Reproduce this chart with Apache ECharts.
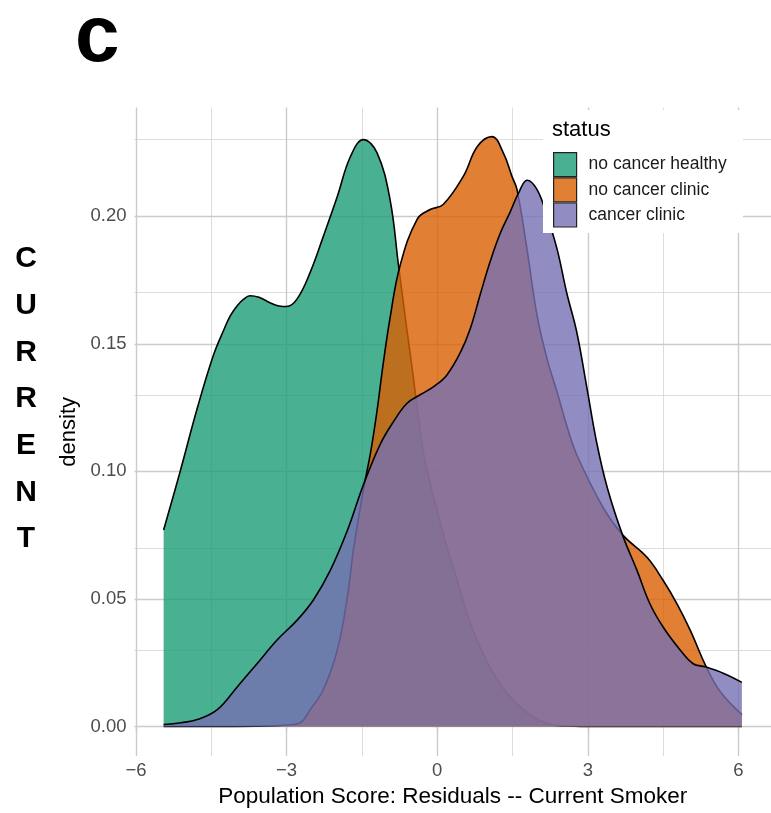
<!DOCTYPE html>
<html>
<head>
<meta charset="utf-8">
<script src="https://cdn.jsdelivr.net/npm/echarts@6.0.0/dist/echarts.min.js"></script>
<style>
html,body{margin:0;padding:0;background:#fff;}
#chart{width:771px;height:813px;}
</style>
</head>
<body>
<div id="chart"></div>
<script>
// ---- data ----
const seriesNames = ['no cancer healthy', 'no cancer clinic', 'cancer clinic'];
const xTicks = [-6, -3, 0, 3, 6];
const xMinorTicks = [-4.5, -1.5, 1.5, 4.5];
const yTicks = [0, 0.05, 0.10, 0.15, 0.20];
const yMinorTicks = [0.025, 0.075, 0.125, 0.175, 0.225];

const healthyX = [-5.45,-5.12,-4.78,-4.46,-4.25,-4.12,-3.98,-3.86,-3.73,-3.55,-3.33,-3.15,-3.00,-2.79,-2.53,-2.27,-1.99,-1.73,-1.47,-1.20,-0.94,-0.77,-0.60,-0.48,-0.38,-0.28,-0.14,0.02,0.20,0.40,0.60,0.86,1.20,1.65,2.19,2.60,3.20,4.00,5.00,6.07];
const healthyY = [0.077,0.100,0.1247,0.1454,0.1555,0.1610,0.1650,0.1674,0.1688,0.1682,0.1661,0.1648,0.1646,0.1676,0.178,0.192,0.2077,0.2233,0.2300,0.2249,0.2066,0.1806,0.155,0.1376,0.122,0.108,0.0955,0.083,0.070,0.0573,0.044,0.031,0.0183,0.0078,0.0012,0.0002,0,0,0,0];

const clinicX = [-5.45,-4.50,-3.60,-3.00,-2.73,-2.53,-2.27,-1.99,-1.79,-1.67,-1.53,-1.43,-1.33,-1.20,-1.08,-0.94,-0.74,-0.40,-0.14,0.12,0.52,0.80,1.09,1.32,1.49,1.59,1.79,1.99,2.19,2.39,2.58,2.78,3.31,3.69,4.18,4.50,4.78,5.04,5.36,5.64,6.07];
const clinicY = [0,0,0.0001,0.0006,0.0015,0.0066,0.0144,0.030,0.0507,0.069,0.086,0.097,0.107,0.1235,0.1415,0.160,0.1806,0.1988,0.2026,0.2046,0.2156,0.2273,0.2312,0.2247,0.2156,0.2104,0.187,0.161,0.144,0.131,0.118,0.1065,0.0857,0.0752,0.0663,0.0573,0.048,0.0378,0.0234,0.0136,0.0047];

const cancerX = [-5.45,-5.10,-4.78,-4.38,-3.98,-3.59,-3.19,-2.79,-2.47,-2.13,-1.79,-1.47,-1.14,-0.87,-0.60,-0.34,-0.07,0.19,0.46,0.66,0.86,1.06,1.25,1.45,1.62,1.79,1.99,2.19,2.39,2.58,2.78,2.98,3.18,3.39,3.69,3.98,4.24,4.50,4.84,5.10,5.34,5.71,6.07];
const cancerY = [0.0008,0.0015,0.0027,0.0066,0.0156,0.0246,0.0339,0.0417,0.0495,0.0612,0.0768,0.0947,0.1104,0.1195,0.1267,0.130,0.1332,0.1377,0.1465,0.156,0.1695,0.1825,0.193,0.2015,0.209,0.2141,0.2104,0.200,0.187,0.170,0.1546,0.133,0.111,0.0935,0.0752,0.0612,0.048,0.039,0.030,0.0246,0.0234,0.0208,0.0173];

// ---- styling / build ----
const baseColors = ['#1B9E77', '#D95F02', '#7570B3'];
const keyColors = ['#49b192', '#e17f35', '#918dc2'];
const xs = [healthyX, clinicX, cancerX];
const ys = [healthyY, clinicY, cancerY];

const zip = (a, b) => a.map((v, i) => [v, b[i]]);
const minusFmt = v => String(v).replace('-', '\u2212');

const majorStyle = { color: '#cbcbcb', width: 1.4, type: 'solid' };
const minorStyle = { color: '#d9d9d9', width: 0.9, type: 'solid' };

const gridLines = []
  .concat(xMinorTicks.map(v => ({ xAxis: v, lineStyle: minorStyle })))
  .concat(yMinorTicks.map(v => ({ yAxis: v, lineStyle: minorStyle })))
  .concat(xTicks.map(v => ({ xAxis: v, lineStyle: majorStyle })))
  .concat(yTicks.map(v => ({ yAxis: v, lineStyle: majorStyle })));

const densitySeries = seriesNames.map((name, i) => ({
  name: name,
  type: 'line',
  data: zip(xs[i], ys[i]),
  smooth: 0.4,
  showSymbol: false,
  symbol: 'none',
  z: 2 + i,
  itemStyle: { color: baseColors[i] },
  lineStyle: { color: '#000', width: 1.6 },
  areaStyle: { color: baseColors[i], opacity: 0.8 },
  emphasis: { disabled: true }
}));

const chart = echarts.init(document.getElementById('chart'), null, { renderer: 'canvas' });
chart.setOption({
  animation: false,
  backgroundColor: '#ffffff',
  textStyle: { fontFamily: 'Liberation Sans, Arial, sans-serif' },
  grid: { left: 134.5, right: 0, top: 107.5, bottom: 53, containLabel: false },
  xAxis: {
    type: 'value',
    min: -6.03, max: 6.65,
    name: 'Population Score: Residuals -- Current Smoker',
    nameLocation: 'middle',
    nameGap: 27,
    nameTextStyle: { fontSize: 22.5, color: '#000' },
    axisLine: { show: false },
    splitLine: { show: false },
    axisTick: { show: true, length: 5, customValues: xTicks, lineStyle: { color: '#888', width: 1.2 } },
    axisLabel: { customValues: xTicks, formatter: minusFmt, fontSize: 18.5, color: '#4d4d4d', margin: 5 }
  },
  yAxis: {
    type: 'value',
    min: -0.0116, max: 0.2426,
    name: 'density',
    nameLocation: 'middle',
    nameRotate: 90,
    nameGap: 45,
    nameTextStyle: { fontSize: 22, color: '#000' },
    axisLine: { show: false },
    splitLine: { show: false },
    axisTick: { show: true, length: 4, customValues: yTicks, lineStyle: { color: '#666', width: 1.2 } },
    axisLabel: { customValues: yTicks, formatter: v => v.toFixed(2), fontSize: 18.5, color: '#4d4d4d', margin: 8 }
  },
  legend: {
    orient: 'vertical',
    left: 553, top: 152,
    padding: 0,
    z: 8,
    itemWidth: 23, itemHeight: 24, itemGap: 0,
    icon: 'rect',
    selectedMode: false,
    textStyle: { fontSize: 17.5, color: '#1a1a1a', padding: [0, 0, 0, 7] },
    data: seriesNames.map((n, i) => ({
      name: n,
      icon: 'rect',
      itemStyle: { color: keyColors[i], borderColor: '#222', borderWidth: 1.2, opacity: 1 }
    }))
  },
  graphic: [
    { type: 'rect', z: 6, silent: true,
      shape: { x: 543, y: 110, width: 200, height: 123 },
      style: { fill: '#ffffff' } },
    { type: 'text', left: 552, top: 119, z: 100,
      style: { text: 'status', font: '22px "Liberation Sans", Arial, sans-serif', fill: '#000' } },
    { type: 'text', x: 75, y: 39, z: 100,
      style: { text: 'c', font: 'bold 80px "Liberation Sans", Arial, sans-serif', fill: '#000', verticalAlign: 'middle' } },
    { type: 'text', x: 26, y: 235.5, z: 100,
      style: { text: 'C\nU\nR\nR\nE\nN\nT', font: 'bold 30px "Liberation Sans", Arial, sans-serif', fill: '#000', align: 'center', verticalAlign: 'top', lineHeight: 46.7 } }
  ],
  series: [{
    name: 'grid',
    type: 'line',
    data: [],
    silent: true,
    z: 1,
    markLine: {
      silent: true,
      z: 1,
      symbol: ['none', 'none'],
      label: { show: false },
      emphasis: { disabled: true },
      animation: false,
      data: gridLines
    }
  }].concat(densitySeries)
});
</script>
</body>
</html>
